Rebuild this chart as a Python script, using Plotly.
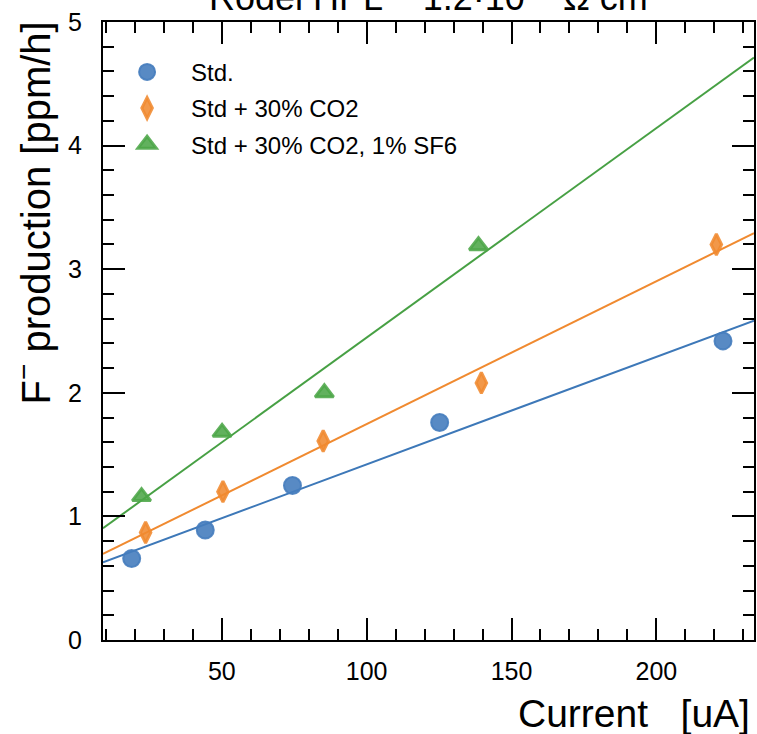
import numpy as np
import plotly.graph_objects as go

# Beam current [uA] and fluoride production [ppm/h] for each gas mixture
std_current = [18.9, 44.3, 74.4, 125.2, 223.0]
std_fprod = [0.66, 0.89, 1.25, 1.76, 2.42]

co2_current = [23.7, 50.4, 85.0, 139.6, 220.7]
co2_fprod = [0.87, 1.20, 1.61, 2.08, 3.20]

sf6_current = [22.3, 50.1, 85.4, 138.6]
sf6_fprod = [1.16, 1.68, 2.00, 3.19]

series_names = ["Std.", "Std + 30% CO2", "Std + 30% CO2, 1% SF6"]

x_range = [9.0, 233.7]
y_range = [0.0, 5.0]

FONT = "Liberation Sans, Arial, Helvetica, sans-serif"

styles = [
    dict(color="#3d78b8", fill="rgba(70,125,190,0.9)", symbol="circle", size=17, lw=2),
    dict(color="#f08a30", fill="rgba(240,138,48,0.88)", symbol="diamond-tall", size=15, lw=3),
    dict(color="#47a044", fill="rgba(76,166,72,0.88)", symbol="triangle-up", size=16, lw=3),
]

data = [
    (std_current, std_fprod),
    (co2_current, co2_fprod),
    (sf6_current, sf6_fprod),
]

fig = go.Figure()

# Linear fits, drawn across the full x range
x_line = np.array(x_range)
for (xs, ys), st in zip(data, styles):
    slope, icpt = np.polyfit(xs, ys, 1)
    fig.add_trace(go.Scatter(
        x=x_line, y=slope * x_line + icpt, mode="lines",
        line=dict(color=st["color"], width=2), showlegend=False,
        hoverinfo="skip", cliponaxis=True,
    ))

# Measured points
for i, ((xs, ys), st, name) in enumerate(zip(data, styles, series_names)):
    fig.add_trace(go.Scatter(
        x=xs, y=ys, mode="markers", name="\u2002\u2002" + name,
        legendgroup=f"g{i}",
        marker=dict(symbol=st["symbol"], size=st["size"], color=st["fill"],
                    line=dict(color=st["fill"], width=st["lw"])),
        cliponaxis=False,
    ))

axis_common = dict(
    showline=True, linecolor="black", linewidth=2, mirror="allticks",
    ticks="inside", ticklen=22, tickwidth=1.5, tickcolor="black",
    showgrid=False, zeroline=False,
    tickfont=dict(family=FONT, size=25, color="black"),
)

fig.update_xaxes(
    range=x_range, dtick=50, tick0=0,
    minor=dict(dtick=10, tick0=0, ticks="inside", ticklen=11, tickwidth=1.5,
               tickcolor="black", showgrid=False),
    ticklabelstandoff=8,
    **axis_common,
)
fig.update_yaxes(
    range=y_range, dtick=1, tick0=0,
    minor=dict(dtick=0.2, tick0=0, ticks="inside", ticklen=11, tickwidth=1.5,
               tickcolor="black", showgrid=False),
    ticklabelstandoff=14,
    **axis_common,
)

annotations = [
    dict(text="Current   [uA]", xref="paper", yref="paper", x=1, y=0,
         xanchor="right", yanchor="middle", xshift=-2, yshift=-73,
         showarrow=False, font=dict(family=FONT, size=39, color="black")),
    dict(text="F<sup>\u2212</sup> production [ppm/h]", xref="paper", yref="paper",
         x=0, y=1, xanchor="center", yanchor="top", xshift=-70, yshift=2,
         textangle=-90, showarrow=False,
         font=dict(family=FONT, size=40, color="black")),
    dict(text="Rodel HPL ~ 1.2\u00b710<sup>10</sup> \u03a9 cm", xref="paper", yref="paper",
         x=0.5, y=1, xanchor="center", yanchor="bottom", yshift=2,
         showarrow=False, font=dict(family=FONT, size=36, color="black")),
]

fig.update_layout(
    width=757, height=734,
    margin=dict(l=103, r=1, t=22, b=94),
    paper_bgcolor="white", plot_bgcolor="white",
    font=dict(family=FONT, color="black"),
    showlegend=True,
    legend=dict(x=0.037, y=0.955, xanchor="left", yanchor="top",
                bgcolor="rgba(0,0,0,0)", tracegroupgap=2,
                font=dict(family=FONT, size=24, color="black")),
    annotations=annotations,
)

fig.write_html("out.html")
